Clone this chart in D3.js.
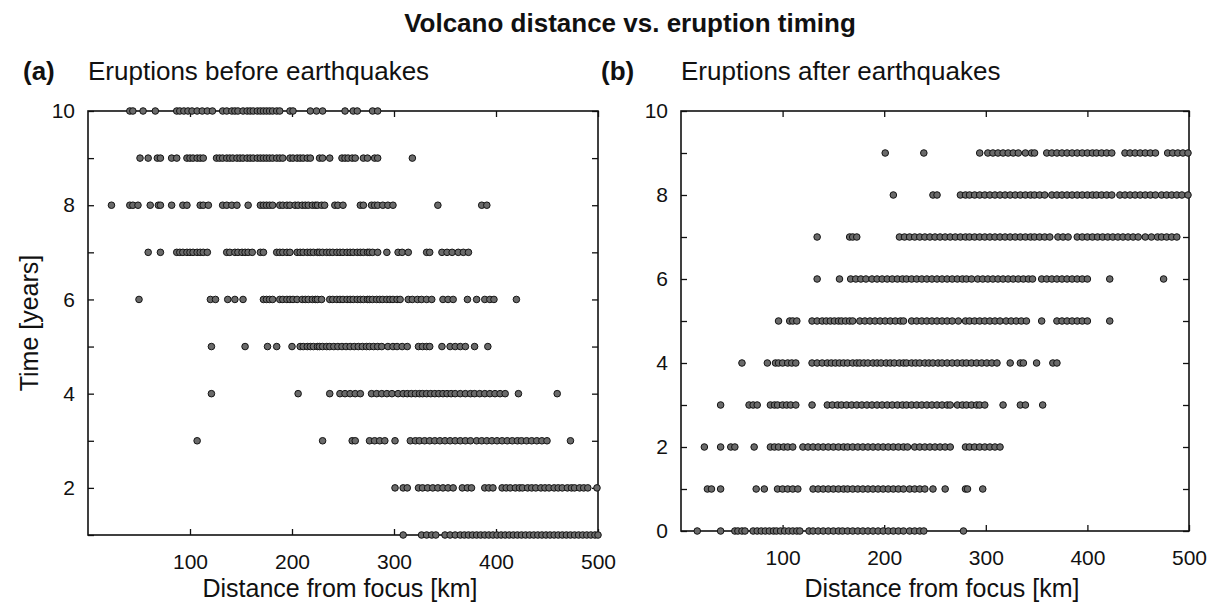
<!DOCTYPE html>
<html>
<head>
<meta charset="utf-8">
<script src="https://cdn.jsdelivr.net/npm/d3@7/dist/d3.min.js"></script>
<style>
  html, body { margin: 0; padding: 0; background: #fff; }
  svg { display: block; }
  text { font-family: "Liberation Sans", Arial, Helvetica, sans-serif; fill: #111; }
</style>
</head>
<body>
<svg id="chart" width="1211" height="604"></svg>
<script>
// ---------- data (distance from focus in km, per eruption-timing year) ----------
const xTicks = [100, 200, 300, 400, 500];

// (a) Eruptions before earthquakes
const before10 = [41,44,54,66,87,90,94,98,102,107,112,117,122,132,136,141,144,147,152,156,159,162,166,169,172,175,178,181,185,188,198,201,218,224,230,252,260,264,279,284];
const before9 = [51,59,68,71,82,87,97,100,103,107,110,113,126,129,132,136,139,142,146,149,152,156,159,162,166,169,172,175,178,181,185,188,191,198,201,205,208,211,215,218,227,230,237,249,252,255,259,262,270,274,281,284,318];
const before8 = [23,41,44,49,61,69,71,82,93,97,110,113,118,132,136,141,146,157,169,172,175,178,181,188,191,195,198,203,206,210,213,216,220,223,225,229,232,242,245,250,267,270,278,281,284,289,294,299,343,386,391];
const before7 = [59,71,87,90,93,97,100,103,107,110,113,117,136,139,144,147,151,154,157,161,169,172,185,188,191,195,198,205,208,211,215,218,221,225,227,230,234,237,240,244,247,250,254,257,260,264,267,270,274,276,279,284,293,304,308,314,332,335,347,352,357,363,368,373];
const before6 = [50,120,125,137,144,152,172,175,178,181,188,191,195,198,201,205,210,213,216,220,223,225,229,237,240,244,247,250,254,257,260,264,267,270,274,276,279,283,286,289,293,296,299,303,306,314,318,323,327,332,337,348,353,358,372,381,389,394,398,420];
const before5 = [121,154,176,185,200,208,211,215,218,221,225,227,230,234,237,241,245,249,253,257,261,265,269,273,276,280,284,288,294,299,303,308,313,324,328,332,335,347,355,360,365,370,379,392];
const before4 = [121,206,237,247,252,257,262,267,278,283,288,293,298,304,309,313,317,321,325,328,332,336,340,344,348,352,356,360,365,370,375,379,384,389,394,399,404,409,422,460];
const before3 = [107,230,259,262,276,281,286,291,301,316,321,325,330,335,340,345,350,355,360,365,370,375,381,386,391,396,401,406,411,416,421,425,430,435,440,445,450,473];
const before2 = [301,309,313,324,328,333,338,343,348,353,358,367,372,376,389,393,397,406,410,414,419,423,426,431,435,439,444,448,452,457,461,465,470,474,477,482,486,490,499];
const before1 = [309,327,332,337,341,350,355,360,365,369,373,377,381,385,389,393,397,401,405,409,413,417,421,425,429,433,437,441,445,449,453,457,461,465,469,473,477,481,485,489,493,497,500];

// (b) Eruptions after earthquakes
const after9 = [201,239,294,302,307,312,317,322,327,332,339,345,348,360,365,370,375,380,385,390,395,400,405,409,414,419,424,437,442,447,452,457,462,467,479,484,489,494,499];
const after8 = [209,248,252,275,280,284,289,294,299,304,309,314,319,324,329,334,339,344,348,353,358,365,370,375,380,385,390,395,400,405,409,414,419,424,432,437,442,447,452,457,462,467,473,478,483,488,493,499];
const after7 = [134,166,169,173,215,220,225,230,235,240,245,250,255,260,265,270,275,280,284,289,294,299,304,309,314,319,324,329,334,339,344,348,353,358,363,371,376,381,390,395,400,405,410,415,420,425,430,435,440,445,450,457,463,469,473,478,483,488];
const after6 = [134,156,167,172,177,182,188,193,198,203,208,213,218,222,227,232,237,242,247,252,257,262,267,272,277,281,286,292,297,302,307,312,317,322,327,332,337,342,346,355,360,365,370,375,380,385,390,395,400,422,475];
const after5 = [96,107,110,114,129,134,139,143,147,151,155,158,162,166,169,176,181,186,191,196,201,206,211,216,219,227,232,237,242,247,252,257,262,267,273,280,284,289,294,299,304,309,314,320,325,330,335,340,355,370,375,380,385,390,395,400,422];
const after4 = [60,85,93,96,100,105,109,113,129,134,139,144,148,152,156,160,164,169,173,176,180,184,189,193,197,202,206,210,215,219,222,227,231,235,240,244,248,253,257,262,267,272,277,281,286,291,296,301,306,311,324,334,337,350,366,370];
const after3 = [39,67,71,75,88,92,95,100,104,108,113,129,144,149,154,158,163,168,173,178,183,188,193,198,203,208,213,218,222,227,232,237,242,247,252,257,262,265,272,277,281,286,291,294,299,317,334,339,356];
const after2 = [23,39,49,53,72,88,92,96,101,105,110,120,125,130,135,140,145,150,155,160,164,169,174,179,184,189,194,199,204,209,214,219,223,230,235,240,245,250,255,260,265,280,284,289,294,299,304,309,314];
const after1 = [26,30,39,74,82,95,100,105,110,115,130,135,140,145,150,155,160,164,169,174,179,184,189,194,199,204,209,214,219,225,230,235,240,248,260,280,282,297];
const after0 = [16,39,53,56,60,63,71,75,79,83,87,91,94,98,102,106,110,114,117,126,130,135,140,145,150,155,159,164,169,174,179,184,189,194,199,204,209,214,219,225,230,235,239,278];

const beforeRows = [[10,before10],[9,before9],[8,before8],[7,before7],[6,before6],[5,before5],[4,before4],[3,before3],[2,before2],[1,before1]];
const afterRows = [[9,after9],[8,after8],[7,after7],[6,after6],[5,after5],[4,after4],[3,after3],[2,after2],[1,after1],[0,after0]];

// ---------- drawing ----------
const svg = d3.select("#chart");
svg.append("rect").attr("width", 1211).attr("height", 604).attr("fill", "#fff");

const FONT = '"Liberation Sans", Arial, Helvetica, sans-serif';

svg.append("text")
  .attr("x", 630).attr("y", 32)
  .attr("text-anchor", "middle")
  .style("font-size", "26px").style("font-weight", "bold")
  .text("Volcano distance vs. eruption timing");

function panel(opts) {
  const { left, right, top, bottom, yDomain, rows, tag, tagX, subtitle, xLabelX, yLabel } = opts;
  const x = d3.scaleLinear().domain([0, 500]).range([left, right]);
  const y = d3.scaleLinear().domain(yDomain).range([bottom, top]);
  const yTicks = d3.range(yDomain[0], yDomain[1] + 1);

  const g = svg.append("g");

  // tag and subtitle
  g.append("text").attr("x", tagX).attr("y", 80)
    .style("font-size", "26px").style("font-weight", "bold").text(tag);
  g.append("text").attr("x", left).attr("y", 80)
    .style("font-size", "26px").text(subtitle);

  // axes (inward ticks on all four sides)
  const fmtY = d => (d % 2 === 0 ? d : "");
  const axB = g.append("g").attr("transform", `translate(0,${bottom})`)
    .call(d3.axisBottom(x).tickValues(xTicks).tickSize(-6).tickPadding(19));
  const axT = g.append("g").attr("transform", `translate(0,${top})`)
    .call(d3.axisTop(x).tickValues(xTicks).tickSize(-6).tickFormat(""));
  const axL = g.append("g").attr("transform", `translate(${left},0)`)
    .call(d3.axisLeft(y).tickValues(yTicks).tickSize(-6).tickPadding(13).tickFormat(fmtY));
  const axR = g.append("g").attr("transform", `translate(${right},0)`)
    .call(d3.axisRight(y).tickValues(yTicks).tickSize(-6).tickFormat(""));
  [axB, axT, axL, axR].forEach(a => {
    a.select(".domain").remove();
    a.selectAll(".tick line").attr("stroke", "#111").attr("stroke-width", 1.3);
    a.selectAll(".tick text").style("font-size", "21px").style("font-family", FONT).attr("fill", "#111");
  });

  // frame
  g.append("rect")
    .attr("x", left).attr("y", top)
    .attr("width", right - left).attr("height", bottom - top)
    .attr("fill", "none").attr("stroke", "#111").attr("stroke-width", 1.6);

  // dots
  const pts = [];
  rows.forEach(([t, ds]) => ds.forEach(d => pts.push({ t, d })));
  g.append("g").selectAll("circle").data(pts).join("circle")
    .attr("cx", p => x(p.d)).attr("cy", p => y(p.t)).attr("r", 3.3)
    .attr("fill", "#6a6a6a").attr("stroke", "#141414").attr("stroke-width", 1);

  // x label
  g.append("text").attr("x", xLabelX).attr("y", 597)
    .attr("text-anchor", "middle").style("font-size", "25px")
    .text("Distance from focus [km]");

  if (yLabel) {
    g.append("text")
      .attr("transform", `translate(38,${(top + bottom) / 2}) rotate(-90)`)
      .attr("text-anchor", "middle").style("font-size", "25px")
      .text(yLabel);
  }
}

panel({ left: 88, right: 598, top: 111, bottom: 535, yDomain: [1, 10], rows: beforeRows,
        tag: "(a)", tagX: 23, subtitle: "Eruptions before earthquakes", xLabelX: 340, yLabel: "Time [years]" });
panel({ left: 681, right: 1189, top: 111, bottom: 531, yDomain: [0, 10], rows: afterRows,
        tag: "(b)", tagX: 601, subtitle: "Eruptions after earthquakes", xLabelX: 942, yLabel: null });
</script>
</body>
</html>
